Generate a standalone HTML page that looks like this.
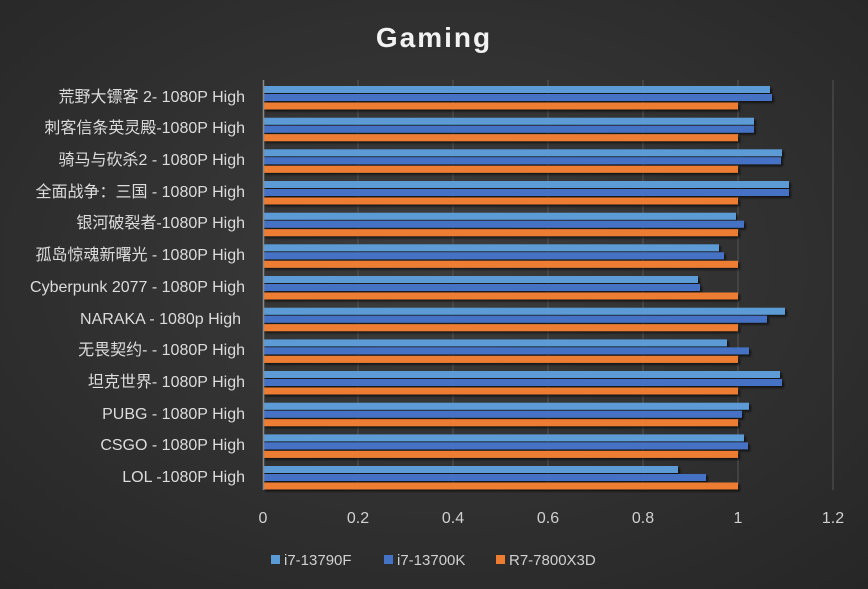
<!DOCTYPE html>
<html><head><meta charset="utf-8"><style>
body{margin:0;background:#2e2e2e}
svg{display:block}
text{font-family:"Liberation Sans","Noto Sans CJK SC",sans-serif}
</style></head><body>
<svg width="868" height="589" viewBox="0 0 868 589" xmlns="http://www.w3.org/2000/svg">
<defs>
<radialGradient id="bg" cx="0.5" cy="0.45" r="0.75">
<stop offset="0" stop-color="#3c3c3c"/><stop offset="1" stop-color="#262626"/>
</radialGradient>
<filter id="sh" x="-5%" y="-5%" width="110%" height="120%">
<feDropShadow dx="2" dy="2" stdDeviation="1" flood-color="#000" flood-opacity="0.6"/>
</filter>
</defs>
<rect width="868" height="589" fill="url(#bg)"/>
<text x="434" y="47" text-anchor="middle" font-size="28" font-weight="bold" fill="#f2f2f2" letter-spacing="2">Gaming</text>
<g stroke="#555" stroke-width="1">
<line x1="358" y1="80" x2="358" y2="490"/><line x1="453" y1="80" x2="453" y2="490"/>
<line x1="548" y1="80" x2="548" y2="490"/><line x1="643" y1="80" x2="643" y2="490"/>
<line x1="738" y1="80" x2="738" y2="490"/><line x1="833" y1="80" x2="833" y2="490"/>
</g>
<g filter="url(#sh)">
<g fill="#5b9bd5">
<rect x="263" y="86" width="507" height="7"/>
<rect x="263" y="117.7" width="491" height="7"/>
<rect x="263" y="149.3" width="519" height="7"/>
<rect x="263" y="181" width="526" height="7"/>
<rect x="263" y="212.7" width="473" height="7"/>
<rect x="263" y="244.3" width="456" height="7"/>
<rect x="263" y="276" width="435" height="7"/>
<rect x="263" y="307.7" width="522" height="7"/>
<rect x="263" y="339.4" width="464" height="7"/>
<rect x="263" y="371" width="517" height="7"/>
<rect x="263" y="402.7" width="486" height="7"/>
<rect x="263" y="434.4" width="481" height="7"/>
<rect x="263" y="466" width="415" height="7"/>
</g>
<g fill="#4472c4">
<rect x="263" y="94" width="509" height="7"/>
<rect x="263" y="125.7" width="491" height="7"/>
<rect x="263" y="157.3" width="518" height="7"/>
<rect x="263" y="189" width="526" height="7"/>
<rect x="263" y="220.7" width="481" height="7"/>
<rect x="263" y="252.3" width="461" height="7"/>
<rect x="263" y="284" width="437" height="7"/>
<rect x="263" y="315.7" width="504" height="7"/>
<rect x="263" y="347.4" width="486" height="7"/>
<rect x="263" y="379" width="519" height="7"/>
<rect x="263" y="410.7" width="479" height="7"/>
<rect x="263" y="442.4" width="485" height="7"/>
<rect x="263" y="474" width="443" height="7"/>
</g>
<g fill="#ed7d31">
<rect x="263" y="102.5" width="475" height="7"/>
<rect x="263" y="134.2" width="475" height="7"/>
<rect x="263" y="165.8" width="475" height="7"/>
<rect x="263" y="197.5" width="475" height="7"/>
<rect x="263" y="229.2" width="475" height="7"/>
<rect x="263" y="260.8" width="475" height="7"/>
<rect x="263" y="292.5" width="475" height="7"/>
<rect x="263" y="324.2" width="475" height="7"/>
<rect x="263" y="355.9" width="475" height="7"/>
<rect x="263" y="387.5" width="475" height="7"/>
<rect x="263" y="419.2" width="475" height="7"/>
<rect x="263" y="450.9" width="475" height="7"/>
<rect x="263" y="482.5" width="475" height="7"/>
</g>
</g>
<line x1="263.5" y1="80" x2="263.5" y2="490" stroke="#8a8a8a" stroke-width="1.5"/>
<g font-size="16" fill="#dcdcdc" text-anchor="end">
<text x="245" y="102">荒野大镖客 2- 1080P High</text>
<text x="245" y="133">刺客信条英灵殿-1080P High</text>
<text x="245" y="165">骑马与砍杀2 - 1080P High</text>
<text x="245" y="197">全面战争：三国 - 1080P High</text>
<text x="245" y="228">银河破裂者-1080P High</text>
<text x="245" y="260">孤岛惊魂新曙光 - 1080P High</text>
<text x="245" y="292">Cyberpunk 2077 - 1080P High</text>
<text x="241" y="324">NARAKA  - 1080p High</text>
<text x="245" y="355">无畏契约- - 1080P High</text>
<text x="245" y="387">坦克世界- 1080P High</text>
<text x="245" y="419">PUBG  - 1080P High</text>
<text x="245" y="450">CSGO  - 1080P High</text>
<text x="245" y="482">LOL  -1080P High</text>
</g>
<g font-size="16" fill="#d0d0d0" text-anchor="middle">
<text x="263" y="523">0</text><text x="358" y="523">0.2</text><text x="453" y="523">0.4</text>
<text x="548" y="523">0.6</text><text x="643" y="523">0.8</text><text x="738" y="523">1</text><text x="833" y="523">1.2</text>
</g>
<g font-size="15" fill="#d0d0d0">
<rect x="271" y="555" width="9" height="9" fill="#5b9bd5"/><text x="284" y="565">i7-13790F</text>
<rect x="384" y="555" width="9" height="9" fill="#4472c4"/><text x="397" y="565">i7-13700K</text>
<rect x="496" y="555" width="9" height="9" fill="#ed7d31"/><text x="509" y="565">R7-7800X3D</text>
</g>
</svg>
</body></html>
